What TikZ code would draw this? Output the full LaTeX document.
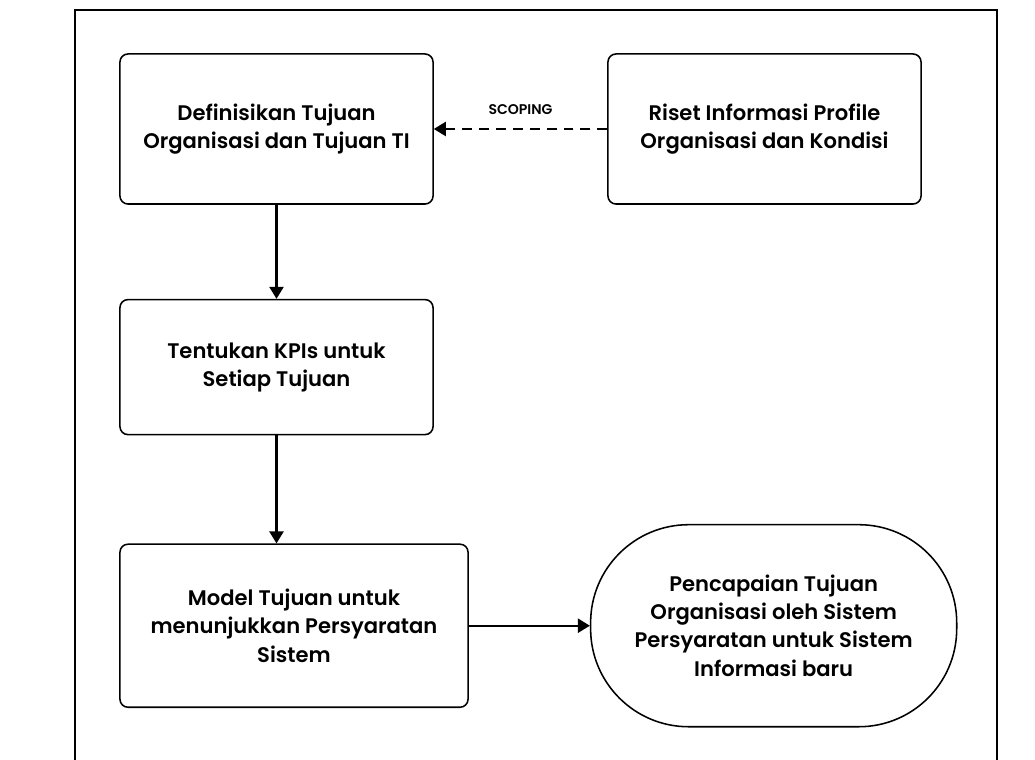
\documentclass[tikz,border=0pt]{standalone}
\usepackage{fontspec}
\setmainfont{Poppins SemiBold}
\usepackage{tikz}
\usetikzlibrary{arrows.meta, positioning}

\begin{document}
\begin{tikzpicture}[
    x=0.025cm, y=-0.025cm,
    box/.style={draw, rounded corners=0.2cm, line width=1.1pt, minimum width=7.825cm, minimum height=3.75cm, align=center, font=\fontsize{15}{20}\selectfont},
    goal/.style={draw, rounded corners=2.45cm, line width=1.1pt, minimum width=9.15cm, minimum height=5.05cm, align=center, font=\fontsize{15}{20}\selectfont},
    arrow/.style={-{Triangle[length=8.5pt, width=10pt]}, line width=1.5pt},
    lbl/.style={font=\fontsize{10}{12}\selectfont}
]
\useasboundingbox (0,0) rectangle (1035,760);
% --- bingkai ---
\draw[line width=1.8pt] (75,760) -- (75,10) -- (997,10) -- (997,760);

% --- alur utama ---
\node[box] (def) at (276.5,129) {Definisikan Tujuan\\Organisasi dan Tujuan TI};
\node[box] (riset) at (764.5,129) {Riset Informasi Profile\\Organisasi dan Kondisi};
\node[box, minimum height=3.375cm, below=2.35cm of def] (kpi) {Tentukan KPIs untuk\\Setiap Tujuan};
\node[box, minimum width=8.7cm, minimum height=4.075cm, below=2.7cm of kpi.south west, anchor=north west] (model) {Model Tujuan untuk\\menunjukkan Persyaratan\\Sistem};
\node[goal, right=3.025cm of model] (capai) {Pencapaian Tujuan\\Organisasi oleh Sistem\\Persyaratan untuk Sistem\\Informasi baru};

\draw[arrow] (def) -- (kpi);
\draw[arrow] (kpi.south) -- (kpi.south |- model.north);
\draw[arrow] (model) -- (capai);

% scoping
\draw[arrow, line width=1.3pt, dash pattern=on 7pt off 5pt] (riset) -- (def) node[lbl, midway, above=6pt] {SCOPING};
\end{tikzpicture}
\end{document}
